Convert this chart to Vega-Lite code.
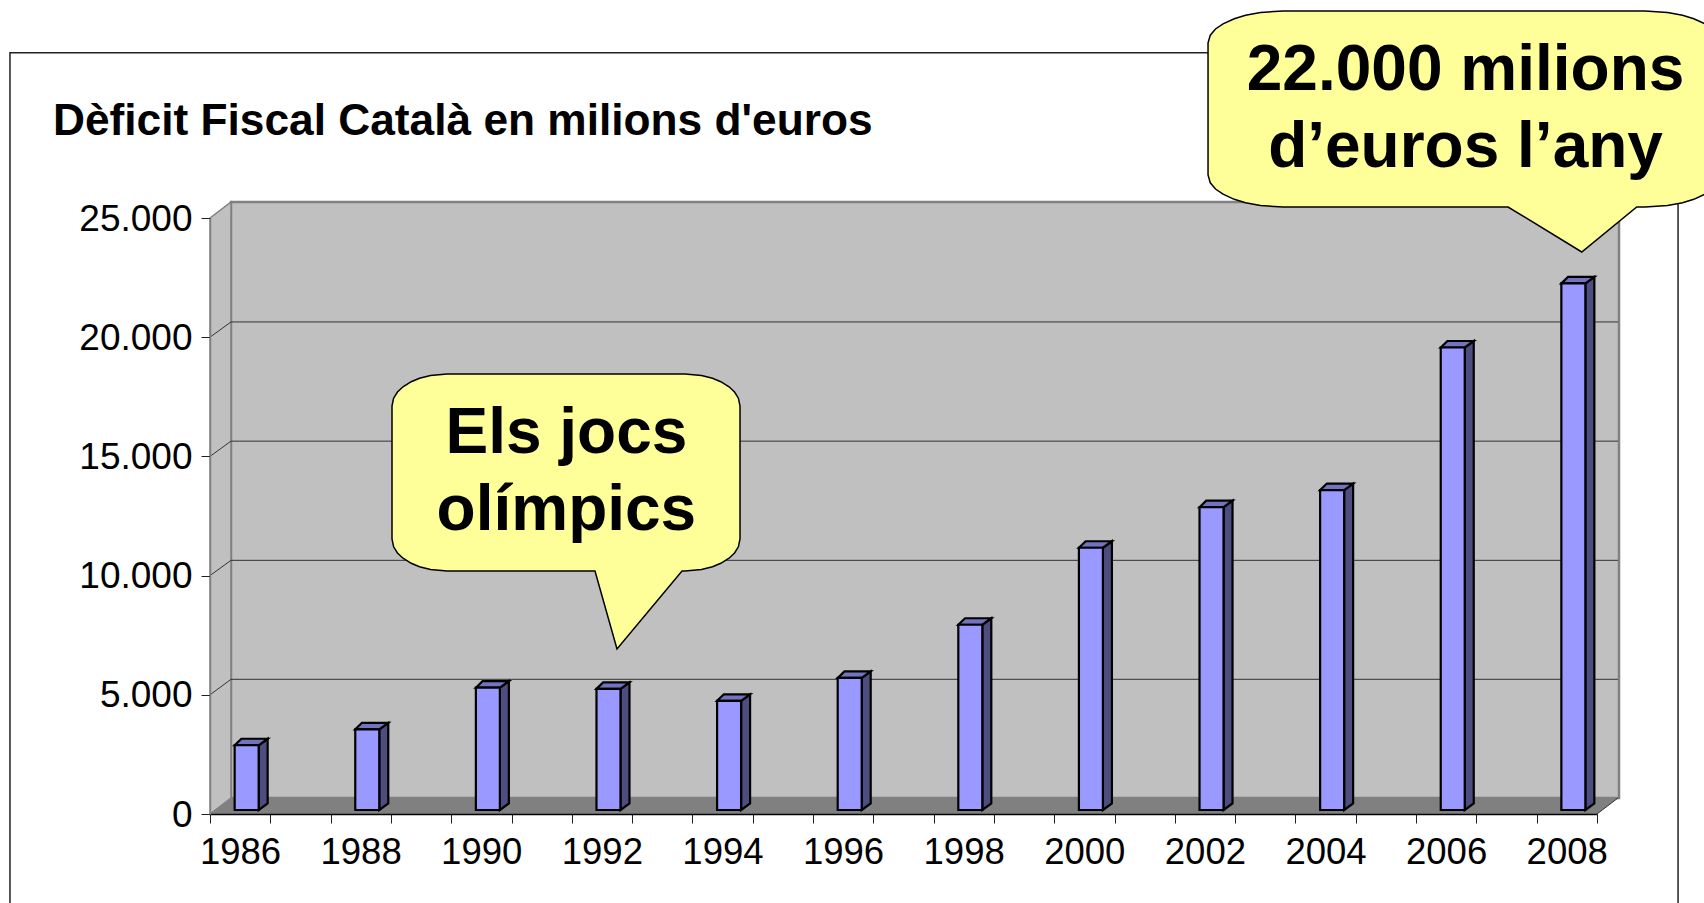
{
"$schema":"https://vega.github.io/schema/vega-lite/v6.json",
"width":1387,"height":596,
"autosize":{"type":"none"},
"padding":{"left":210,"top":218,"right":107,"bottom":89},
"background":"white",
"config":{"view":{"stroke":null},"font":"Liberation Sans"},
"title":{"text":"Dèficit Fiscal Català en milions d'euros","anchor":"start","frame":"group","dx":-157,"offset":-136,"font":"Liberation Sans","fontSize":44.25,"fontWeight":"bold","color":"black"},
"datasets":{
"frame":[{"year":1982.183,"year2":2009.844,"value":31933,"value2":-10000}],
"wall":[{"year":1985.848,"year2":2008.865,"value":25671,"value2":671}],
"leftWall":[{"year":1985.5,"value":25000,"value2":0},{"year":1985.848,"value":25671,"value2":671}],
"floor":[{"year":1985.5,"value":0,"value2":0},{"year":1985.848,"value":0,"value2":671},{"year":2008.5,"value":0,"value2":671},{"year":2008.848,"value":671,"value2":671}],
"grid":[
{"year":1985.848,"year2":2008.848,"value":5650,"value2":5650},
{"year":1985.848,"year2":2008.848,"value":10640,"value2":10640},
{"year":1985.848,"year2":2008.848,"value":15640,"value2":15640},
{"year":1985.848,"year2":2008.848,"value":20640,"value2":20640},
{"year":1985.5,"year2":1985.848,"value":5000,"value2":5650},
{"year":1985.5,"year2":1985.848,"value":10000,"value2":10640},
{"year":1985.5,"year2":1985.848,"value":15000,"value2":15640},
{"year":1985.5,"year2":1985.848,"value":20000,"value2":20640},
{"year":2008.5,"year2":2008.848,"value":0,"value2":671}],
"bars":[{"year":1986,"value":2715},{"year":1988,"value":3385},{"year":1990,"value":5130},{"year":1992,"value":5080},{"year":1994,"value":4580},{"year":1996,"value":5540},{"year":1998,"value":7770},{"year":2000,"value":11000},{"year":2002,"value":12700},{"year":2004,"value":13420},{"year":2006,"value":19400},{"year":2008,"value":22090}],
"side":[
{"bar":1986,"year":1986.307,"value":2883,"value2":168},{"bar":1986,"year":1986.456,"value":3156,"value2":441},
{"bar":1988,"year":1988.307,"value":3553,"value2":168},{"bar":1988,"year":1988.456,"value":3826,"value2":441},
{"bar":1990,"year":1990.307,"value":5298,"value2":168},{"bar":1990,"year":1990.456,"value":5571,"value2":441},
{"bar":1992,"year":1992.307,"value":5248,"value2":168},{"bar":1992,"year":1992.456,"value":5521,"value2":441},
{"bar":1994,"year":1994.307,"value":4748,"value2":168},{"bar":1994,"year":1994.456,"value":5021,"value2":441},
{"bar":1996,"year":1996.307,"value":5708,"value2":168},{"bar":1996,"year":1996.456,"value":5981,"value2":441},
{"bar":1998,"year":1998.307,"value":7938,"value2":168},{"bar":1998,"year":1998.456,"value":8211,"value2":441},
{"bar":2000,"year":2000.307,"value":11168,"value2":168},{"bar":2000,"year":2000.456,"value":11441,"value2":441},
{"bar":2002,"year":2002.307,"value":12868,"value2":168},{"bar":2002,"year":2002.456,"value":13141,"value2":441},
{"bar":2004,"year":2004.307,"value":13588,"value2":168},{"bar":2004,"year":2004.456,"value":13861,"value2":441},
{"bar":2006,"year":2006.307,"value":19568,"value2":168},{"bar":2006,"year":2006.456,"value":19841,"value2":441},
{"bar":2008,"year":2008.307,"value":22258,"value2":168},{"bar":2008,"year":2008.456,"value":22531,"value2":441}],
"cap":[
{"bar":1986,"year":1985.909,"value":2883,"value2":2883},{"bar":1986,"year":1986.02,"value":3156,"value2":2883},{"bar":1986,"year":1986.307,"value":3156,"value2":2883},{"bar":1986,"year":1986.456,"value":3156,"value2":3156},
{"bar":1988,"year":1987.909,"value":3553,"value2":3553},{"bar":1988,"year":1988.02,"value":3826,"value2":3553},{"bar":1988,"year":1988.307,"value":3826,"value2":3553},{"bar":1988,"year":1988.456,"value":3826,"value2":3826},
{"bar":1990,"year":1989.909,"value":5298,"value2":5298},{"bar":1990,"year":1990.02,"value":5571,"value2":5298},{"bar":1990,"year":1990.307,"value":5571,"value2":5298},{"bar":1990,"year":1990.456,"value":5571,"value2":5571},
{"bar":1992,"year":1991.909,"value":5248,"value2":5248},{"bar":1992,"year":1992.02,"value":5521,"value2":5248},{"bar":1992,"year":1992.307,"value":5521,"value2":5248},{"bar":1992,"year":1992.456,"value":5521,"value2":5521},
{"bar":1994,"year":1993.909,"value":4748,"value2":4748},{"bar":1994,"year":1994.02,"value":5021,"value2":4748},{"bar":1994,"year":1994.307,"value":5021,"value2":4748},{"bar":1994,"year":1994.456,"value":5021,"value2":5021},
{"bar":1996,"year":1995.909,"value":5708,"value2":5708},{"bar":1996,"year":1996.02,"value":5981,"value2":5708},{"bar":1996,"year":1996.307,"value":5981,"value2":5708},{"bar":1996,"year":1996.456,"value":5981,"value2":5981},
{"bar":1998,"year":1997.909,"value":7938,"value2":7938},{"bar":1998,"year":1998.02,"value":8211,"value2":7938},{"bar":1998,"year":1998.307,"value":8211,"value2":7938},{"bar":1998,"year":1998.456,"value":8211,"value2":8211},
{"bar":2000,"year":1999.909,"value":11168,"value2":11168},{"bar":2000,"year":2000.02,"value":11441,"value2":11168},{"bar":2000,"year":2000.307,"value":11441,"value2":11168},{"bar":2000,"year":2000.456,"value":11441,"value2":11441},
{"bar":2002,"year":2001.909,"value":12868,"value2":12868},{"bar":2002,"year":2002.02,"value":13141,"value2":12868},{"bar":2002,"year":2002.307,"value":13141,"value2":12868},{"bar":2002,"year":2002.456,"value":13141,"value2":13141},
{"bar":2004,"year":2003.909,"value":13588,"value2":13588},{"bar":2004,"year":2004.02,"value":13861,"value2":13588},{"bar":2004,"year":2004.307,"value":13861,"value2":13588},{"bar":2004,"year":2004.456,"value":13861,"value2":13861},
{"bar":2006,"year":2005.909,"value":19568,"value2":19568},{"bar":2006,"year":2006.02,"value":19841,"value2":19568},{"bar":2006,"year":2006.307,"value":19841,"value2":19568},{"bar":2006,"year":2006.456,"value":19841,"value2":19841},
{"bar":2008,"year":2007.909,"value":22258,"value2":22258},{"bar":2008,"year":2008.02,"value":22531,"value2":22258},{"bar":2008,"year":2008.307,"value":22531,"value2":22258},{"bar":2008,"year":2008.456,"value":22531,"value2":22531}],
"bubble1":[
{"year":1988.518,"value":17114,"value2":11535},{"year":1988.545,"value":17441,"value2":11208},{"year":1988.609,"value":17701,"value2":10948},{"year":1988.701,"value":17919,"value2":10730},{"year":1988.837,"value":18133,"value2":10516},{"year":1988.974,"value":18276,"value2":10373},{"year":1989.157,"value":18393,"value2":10256},{"year":1989.43,"value":18456,"value2":10193},{"year":1991.884,"value":18456,"value2":10193},{"year":1992.249,"value":18456,"value2":6921},{"year":1993.327,"value":18456,"value2":10193},{"year":1993.377,"value":18456,"value2":10193},{"year":1993.65,"value":18393,"value2":10256},{"year":1993.833,"value":18276,"value2":10373},{"year":1993.97,"value":18133,"value2":10516},{"year":1994.107,"value":17919,"value2":10730},{"year":1994.198,"value":17701,"value2":10948},{"year":1994.262,"value":17441,"value2":11208},{"year":1994.289,"value":17114,"value2":11535}],
"bubble2":[
{"year":2002.05,"value":32341,"value2":26803},{"year":2002.087,"value":32668,"value2":26476},{"year":2002.174,"value":32928,"value2":26216},{"year":2002.299,"value":33146,"value2":25998},{"year":2002.485,"value":33360,"value2":25784},{"year":2002.672,"value":33503,"value2":25641},{"year":2002.92,"value":33620,"value2":25524},{"year":2003.294,"value":33683,"value2":25461},{"year":2007.025,"value":33683,"value2":25461},{"year":2008.247,"value":33683,"value2":23574},{"year":2009.159,"value":33683,"value2":25461},{"year":2009.297,"value":33683,"value2":25461},{"year":2009.67,"value":33620,"value2":25524},{"year":2009.919,"value":33503,"value2":25641},{"year":2010.105,"value":33360,"value2":25784},{"year":2010.291,"value":33146,"value2":25998},{"year":2010.416,"value":32928,"value2":26216},{"year":2010.503,"value":32668,"value2":26476},{"year":2010.54,"value":32341,"value2":26803}],
"notes1":[{"year":1991.41,"value":15142,"text":"Els jocs"},{"year":1991.41,"value":11913,"text":"olímpics"}],
"notes2":[{"year":2006.32,"value":30369,"text":"22.000 milions"},{"year":2006.32,"value":27139,"text":"d’euros l’any"}]
},
"encoding":{
"x":{"field":"year","type":"quantitative","title":null,"scale":{"domain":[1985.5,2008.5],"nice":false,"zero":false,"padding":0},
"axis":{"values":[1985.5,1986.5,1987.5,1988.5,1989.5,1990.5,1991.5,1992.5,1993.5,1994.5,1995.5,1996.5,1997.5,1998.5,1999.5,2000.5,2001.5,2002.5,2003.5,2004.5,2005.5,2006.5,2007.5,2008.5],
"labelExpr":"(datum.value+0.5)%2==0 ? format(datum.value+0.5,'d') : ''","labelOffset":30,"labelOverlap":false,"labelBound":false,"labelFlush":false,"labelAngle":0,"labelFont":"Liberation Sans","labelFontSize":36.5,"labelColor":"black","labelPadding":11,"tickSize":9,"tickColor":"#222","tickWidth":1,"domainColor":"black","domainWidth":1.5,"grid":false,"zindex":1}},
"y":{"field":"value","type":"quantitative","title":null,"scale":{"domain":[0,25000],"nice":false},
"axis":{"values":[0,5000,10000,15000,20000,25000],"labelExpr":"replace(format(datum.value,','),',','.')","labelFont":"Liberation Sans","labelFontSize":37,"labelColor":"black","labelPadding":9,"labelOffset":1,"tickSize":9,"tickColor":"#222","tickWidth":1,"domainColor":"#808080","domainWidth":1.5,"grid":false,"zindex":1}}
},
"layer":[
{"data":{"name":"frame"},"mark":{"type":"rect","fill":null,"filled":false,"stroke":"#222","strokeWidth":1.5,"clip":false},"encoding":{"x2":{"field":"year2"},"y2":{"field":"value2"}}},
{"data":{"name":"wall"},"mark":{"type":"rect","fill":"#C0C0C0","stroke":"#808080","strokeWidth":2.5},"encoding":{"x2":{"field":"year2"},"y2":{"field":"value2"}}},
{"data":{"name":"leftWall"},"mark":{"type":"area","fill":"#C0C0C0","stroke":"#808080","strokeWidth":1.5,"orient":"vertical"},"encoding":{"y2":{"field":"value2"}}},
{"data":{"name":"floor"},"mark":{"type":"area","fill":"#808080","orient":"vertical"},"encoding":{"y2":{"field":"value2"}}},
{"data":{"name":"grid"},"mark":{"type":"rule","stroke":"#333","strokeWidth":1},"encoding":{"x2":{"field":"year2"},"y2":{"field":"value2"}}},
{"data":{"name":"side"},"mark":{"type":"area","fill":"#4D4D80","stroke":"black","strokeWidth":2.2,"orient":"vertical"},"encoding":{"y2":{"field":"value2"},"detail":{"field":"bar"}}},
{"data":{"name":"cap"},"mark":{"type":"area","fill":"#7373BF","stroke":"black","strokeWidth":2.2,"orient":"vertical"},"encoding":{"y2":{"field":"value2"},"detail":{"field":"bar"}}},
{"data":{"name":"bars"},"mark":{"type":"bar","orient":"vertical","size":24,"fill":"#9999FF","stroke":"black","strokeWidth":2.2,"xOffset":6.5,"yOffset":-4,"y2Offset":-4},"encoding":{"y2":{"datum":0}}},
{"data":{"name":"bubble1"},"mark":{"type":"area","fill":"#FFFF99","stroke":"black","strokeWidth":1.5,"orient":"vertical"},"encoding":{"y2":{"field":"value2"}}},
{"data":{"name":"bubble2"},"mark":{"type":"area","fill":"#FFFF99","stroke":"black","strokeWidth":1.5,"orient":"vertical"},"encoding":{"y2":{"field":"value2"}}},
{"data":{"name":"notes1"},"mark":{"type":"text","font":"Liberation Sans","fontWeight":"bold","fontSize":64,"color":"black","align":"center","baseline":"alphabetic"},"encoding":{"text":{"field":"text"}}},
{"data":{"name":"notes2"},"mark":{"type":"text","font":"Liberation Sans","fontWeight":"bold","fontSize":64,"color":"black","align":"center","baseline":"alphabetic"},"encoding":{"text":{"field":"text"}}}
]
}
